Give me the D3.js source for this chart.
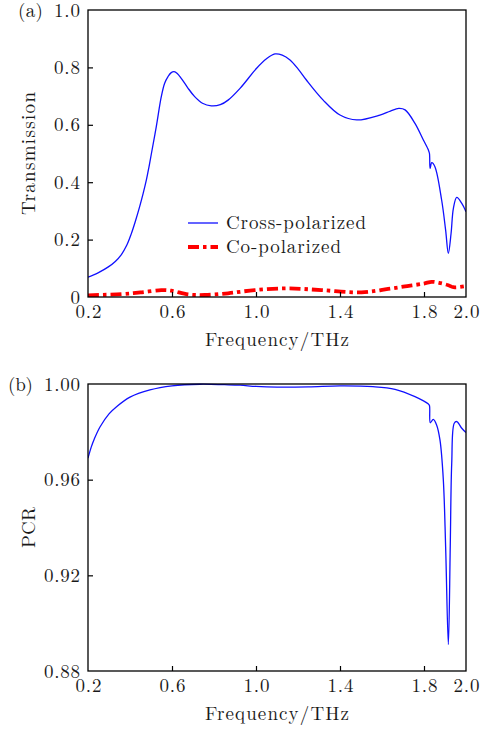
<!DOCTYPE html>
<html lang="en">
  <head>
    <meta charset="UTF-8">
    <title>Transmission and PCR</title>
    <style>
      body { margin: 0; background: #fff; }
      .tick line { stroke: #000; stroke-width: 1.2px; }
      .frame { fill: none; stroke: #000; stroke-width: 1.3px; }
      .cross { fill: none; stroke: #1010ff; stroke-width: 1.3px; }
      .co { fill: none; stroke: #ff0000; stroke-width: 3.8px; stroke-dasharray: 11, 4, 3.5, 4; }
    </style>
  </head>
  <body>
    <script src="https://d3js.org/d3.v7.min.js"></script>
    <script>
      // values
      const xTicks = [0.2, 0.6, 1.0, 1.4, 1.8, 2.0];
      const transTicks = [0, 0.2, 0.4, 0.6, 0.8, 1.0];
      const pcrTicks = [0.88, 0.92, 0.96, 1.00];

      const crossF = [0.2, 0.25, 0.295, 0.33, 0.359, 0.385, 0.406, 0.426, 0.446, 0.463, 0.478, 0.49, 0.502, 0.525,
        0.549, 0.565, 0.581, 0.595, 0.61, 0.625, 0.644, 0.675, 0.708, 0.745, 0.787, 0.83, 0.867, 0.924, 1.003,
        1.05, 1.09, 1.125, 1.162, 1.2, 1.24, 1.32, 1.40, 1.48, 1.59, 1.64, 1.68, 1.71, 1.757,
        1.797, 1.821, 1.826, 1.829, 1.837, 1.852, 1.884, 1.903, 1.916, 1.929, 1.94, 1.956, 1.98, 2.0];
      const crossT = [0.069, 0.085, 0.104, 0.124, 0.148, 0.181, 0.220, 0.265, 0.315, 0.362, 0.408, 0.452, 0.50, 0.593,
        0.698, 0.745, 0.768, 0.781, 0.785, 0.779, 0.762, 0.729, 0.698, 0.675, 0.666, 0.67, 0.686, 0.727, 0.797,
        0.830, 0.847, 0.843, 0.826, 0.795, 0.756, 0.686, 0.634, 0.617, 0.634, 0.648, 0.657, 0.652, 0.605,
        0.547, 0.512, 0.50, 0.448, 0.468, 0.454, 0.338, 0.233, 0.152, 0.222, 0.309, 0.347, 0.326, 0.297];

      const coF = [0.2, 0.359, 0.45, 0.549, 0.597, 0.676, 0.756, 0.867, 0.994, 1.152, 1.311, 1.502, 1.629,
        1.72, 1.80, 1.837, 1.88, 1.916, 1.94, 2.0];
      const coT = [0.006, 0.010, 0.016, 0.024, 0.022, 0.009, 0.007, 0.013, 0.024, 0.030, 0.024, 0.016, 0.028,
        0.038, 0.047, 0.053, 0.048, 0.041, 0.034, 0.038];

      const pcrF = [0.2, 0.215, 0.23, 0.257, 0.3, 0.336, 0.4, 0.495, 0.6, 0.733, 0.85, 0.924, 1.0, 1.1, 1.25, 1.4,
        1.557, 1.662, 1.757, 1.821, 1.826, 1.83, 1.844, 1.86, 1.876, 1.892, 1.903, 1.916, 1.925, 1.932,
        1.944, 1.956, 1.98, 2.0];
      const pcrV = [0.969, 0.9735, 0.977, 0.982, 0.9875, 0.9905, 0.9945, 0.9975, 0.9992, 0.9999, 0.9997, 0.9995, 0.999,
        0.9987, 0.9988, 0.9992, 0.9989, 0.9978, 0.9947, 0.9916, 0.991, 0.9838, 0.9852, 0.9829, 0.9766, 0.960,
        0.932, 0.891, 0.932, 0.9668, 0.9836, 0.9843, 0.9815, 0.9797];

      const W = 481, H = 731;
      const left = 88, right = 466;
      const FONT = '"Latin Modern Roman", "DejaVu Serif", serif';
      const FS = "19px";

      function font(sel) {
        return sel.style("font-family", FONT).style("font-size", FS).attr("fill", "#1a1a1a");
      }

      const svg = d3.select("body").append("svg")
        .attr("width", W)
        .attr("height", H);

      const x = d3.scaleLinear().domain([0.2, 2.0]).range([left, right]);

      function panel(top, bottom, yDomain, yTicks, yFmt, yLabel, yLabelLen, tag, tagX, tagY, series) {
        const y = d3.scaleLinear().domain(yDomain).range([bottom, top]);

        // curves first, frame on top
        const clipId = "clip" + tag;
        svg.append("clipPath").attr("id", clipId)
          .append("rect")
          .attr("x", left).attr("y", top - 1)
          .attr("width", right - left).attr("height", bottom - top + 1);

        series.forEach(s => {
          const line = d3.line()
            .x((d, i) => x(s.f[i]))
            .y((d, i) => y(s.v[i]))
            .curve(d3.curveCatmullRom.alpha(0.5));
          svg.append("path")
            .datum(s.f)
            .attr("class", s.cls)
            .attr("clip-path", `url(#${clipId})`)
            .attr("d", line);
        });

        const yAxis = svg.append("g")
          .attr("transform", `translate(${left},0)`)
          .call(d3.axisLeft(y).tickValues(yTicks).tickFormat(yFmt)
            .tickSizeInner(-5).tickSizeOuter(0).tickPadding(8));
        yAxis.select(".domain").remove();
        font(yAxis.selectAll("text")).attr("textLength", function () { return this.textContent.length > 3 ? 36 : (this.textContent.length > 1 ? 26 : null); });
        // the very top / bottom ticks coincide with the frame
        yAxis.selectAll(".tick line").filter(d => d === yDomain[1] || d === yDomain[0]).remove();

        const xAxis = svg.append("g")
          .attr("transform", `translate(0,${bottom})`)
          .call(d3.axisBottom(x).tickValues(xTicks).tickFormat(d3.format(".1f"))
            .tickSizeInner(-5).tickSizeOuter(0).tickPadding(8));
        xAxis.select(".domain").remove();
        font(xAxis.selectAll("text")).attr("textLength", 26);
        xAxis.selectAll(".tick line").filter(d => d === 0.2 || d === 2.0).remove();

        svg.append("rect")
          .attr("class", "frame")
          .attr("x", left).attr("y", top)
          .attr("width", right - left).attr("height", bottom - top);

        font(svg.append("text"))
          .attr("transform", `translate(35,${(top + bottom) / 2}) rotate(-90)`)
          .attr("text-anchor", "middle")
          .attr("textLength", yLabelLen)
          .text(yLabel);

        font(svg.append("text"))
          .attr("x", (left + right) / 2)
          .attr("y", bottom + 49)
          .attr("text-anchor", "middle")
          .attr("textLength", 144)
          .text("Frequency/THz");

        font(svg.append("text"))
          .attr("x", tagX)
          .attr("y", tagY)
          .attr("textLength", 25)
          .text(`(${tag})`);

        return y;
      }

      panel(10, 297, [0, 1], transTicks, d => d === 0 ? "0" : d3.format(".1f")(d), "Transmission", 123, "a", 18, 17, [
        { f: crossF, v: crossT, cls: "cross" },
        { f: coF, v: coT, cls: "co" }
      ]);

      panel(384, 671, [0.88, 1.0], pcrTicks, d3.format(".2f"), "PCR", 41, "b", 8, 391, [
        { f: pcrF, v: pcrV, cls: "cross" }
      ]);

      // legend
      const legend = [
        { label: "Cross-polarized", len: 140, cls: "cross", y: 223 },
        { label: "Co-polarized", len: 115, cls: "co", y: 247 }
      ];
      const lg = svg.append("g");
      legend.forEach(l => {
        lg.append("line")
          .attr("class", l.cls)
          .attr("x1", 188).attr("x2", 218)
          .attr("y1", l.y).attr("y2", l.y);
        font(lg.append("text"))
          .attr("x", 226).attr("y", l.y + 6)
          .attr("textLength", l.len)
          .text(l.label);
      });
    </script>
  </body>
</html>
